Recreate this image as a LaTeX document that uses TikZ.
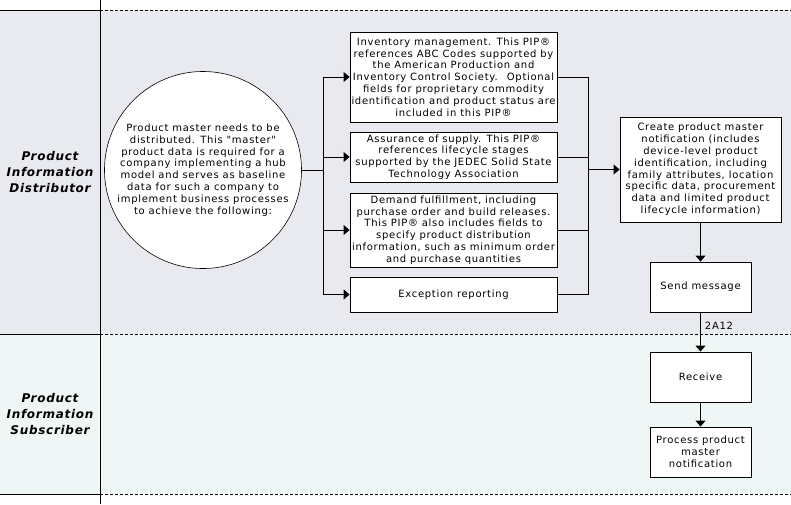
\documentclass[tikz,border=0pt]{standalone}
\usepackage{fontspec}
\setmainfont{DejaVu Sans}
\newfontfamily\boxfont[LetterSpace=7]{DejaVu Sans}
\newfontfamily\lanefont[LetterSpace=6]{DejaVu Sans}
\usetikzlibrary{arrows.meta}

\definecolor{laneA}{RGB}{232,234,240}
\definecolor{laneB}{RGB}{238,246,246}

\begin{document}
\begin{tikzpicture}[x=1pt, y=1pt,
    box/.style={draw, fill=white, line width=0.9pt, align=center, inner sep=1pt,
      font=\boxfont\fontsize{10}{11.8}\selectfont},
    lanelabel/.style={align=center, font=\lanefont\fontsize{12}{16}\selectfont\bfseries\itshape},
    arr/.style={-{Triangle[length=6pt, width=10pt]}, line width=0.9pt},
    lane/.style={line width=0.9pt, dash pattern=on 3pt off 2pt}]
    \useasboundingbox (0,0) rectangle (791,-504);
    % swim lanes
    \fill[laneA] (0,-10) rectangle (791,-334);
    \fill[laneB] (0,-334) rectangle (791,-494);
    \draw[line width=0.9pt] (0,-10) -- (100,-10);
    \draw[line width=0.9pt] (0,-334) -- (100,-334);
    \draw[line width=0.9pt] (0,-494) -- (100,-494);
    \draw[lane] (100,-10) -- (791,-10);
    \draw[lane] (100,-334) -- (791,-334);
    \draw[lane] (100,-494) -- (791,-494);
    \draw[line width=0.9pt] (100,0) -- (100,-504);
    \node[lanelabel] (dist) at (50,-172) {Product\\Information\\Distributor};
    \node[lanelabel] (subs) at (50,-414) {Product\\Information\\Subscriber};

    % start
    \node[box, circle, line width=0.6pt, minimum size=176pt] (goal) at (203,-170)
      {Product master needs to be\\distributed. This "master"\\product data is required for a\\company implementing a hub\\model and serves as baseline\\data for such a company to\\implement business processes\\to achieve the following:};

    % the four uses
    \node[box, minimum width=207pt, minimum height=90pt] (inv) at (453.5,-77)
      {Inventory management. This PIP®\\references ABC Codes supported by\\the American Production and\\Inventory Control Society.~ Optional\\fields for proprietary commodity\\identification and product status are\\included in this PIP®};
    \node[box, minimum width=207pt, minimum height=50pt] (sup) at (453.5,-157)
      {Assurance of supply. This PIP®\\references lifecycle stages\\supported by the JEDEC Solid State\\Technology Association};
    \node[box, minimum width=207pt, minimum height=74pt] (dem) at (453.5,-230)
      {Demand fulfillment, including\\purchase order and build releases.\\This PIP® also includes fields to\\specify product distribution\\information, such as minimum order\\and purchase quantities};
    \node[box, minimum width=207pt, minimum height=35pt] (exc) at (453.5,-294.5)
      {Exception reporting};

    % message flow
    \node[box, minimum width=161pt, minimum height=105pt] (make) at (700.5,-169.5)
      {Create product master\\notification (includes\\device-level product\\identification, including\\family attributes, location\\specific data, procurement\\data and limited product\\lifecycle information)};
    \node[box, minimum width=101pt, minimum height=50pt] (send) at (700.5,-287) {Send message};
    \node[box, minimum width=101pt, minimum height=50pt] (recv) at (700.5,-377) {Receive};
    \node[box, minimum width=101pt, minimum height=50pt] (proc) at (700.5,-452)
      {Process product\\master\\notification};

    % connectors
    \coordinate (busL) at (323,-168);
    \coordinate (busR) at (588,-168);
    \draw[line width=0.9pt] (goal.east) -- (goal.east -| busL);
    \draw[line width=0.9pt] (busL |- inv) -- (busL |- exc);
    \draw[line width=0.9pt] (busR |- inv) -- (busR |- exc);
    \foreach \n in {inv,sup,dem,exc} {
      \draw[arr] (busL |- \n) -- (\n.west);
      \draw[line width=0.9pt] (\n.east) -- (\n.east -| busR);
    }
    \draw[arr] (busR |- make) -- (make.west);
    \draw[arr] (make.south) -- (send.north);
    \draw[arr] (send.south) -- node[pos=0.35, right, inner sep=4pt,
      font=\boxfont\fontsize{10}{11.8}\selectfont] {2A12} (recv.north);
    \draw[arr] (recv.south) -- (proc.north);
\end{tikzpicture}
\end{document}
